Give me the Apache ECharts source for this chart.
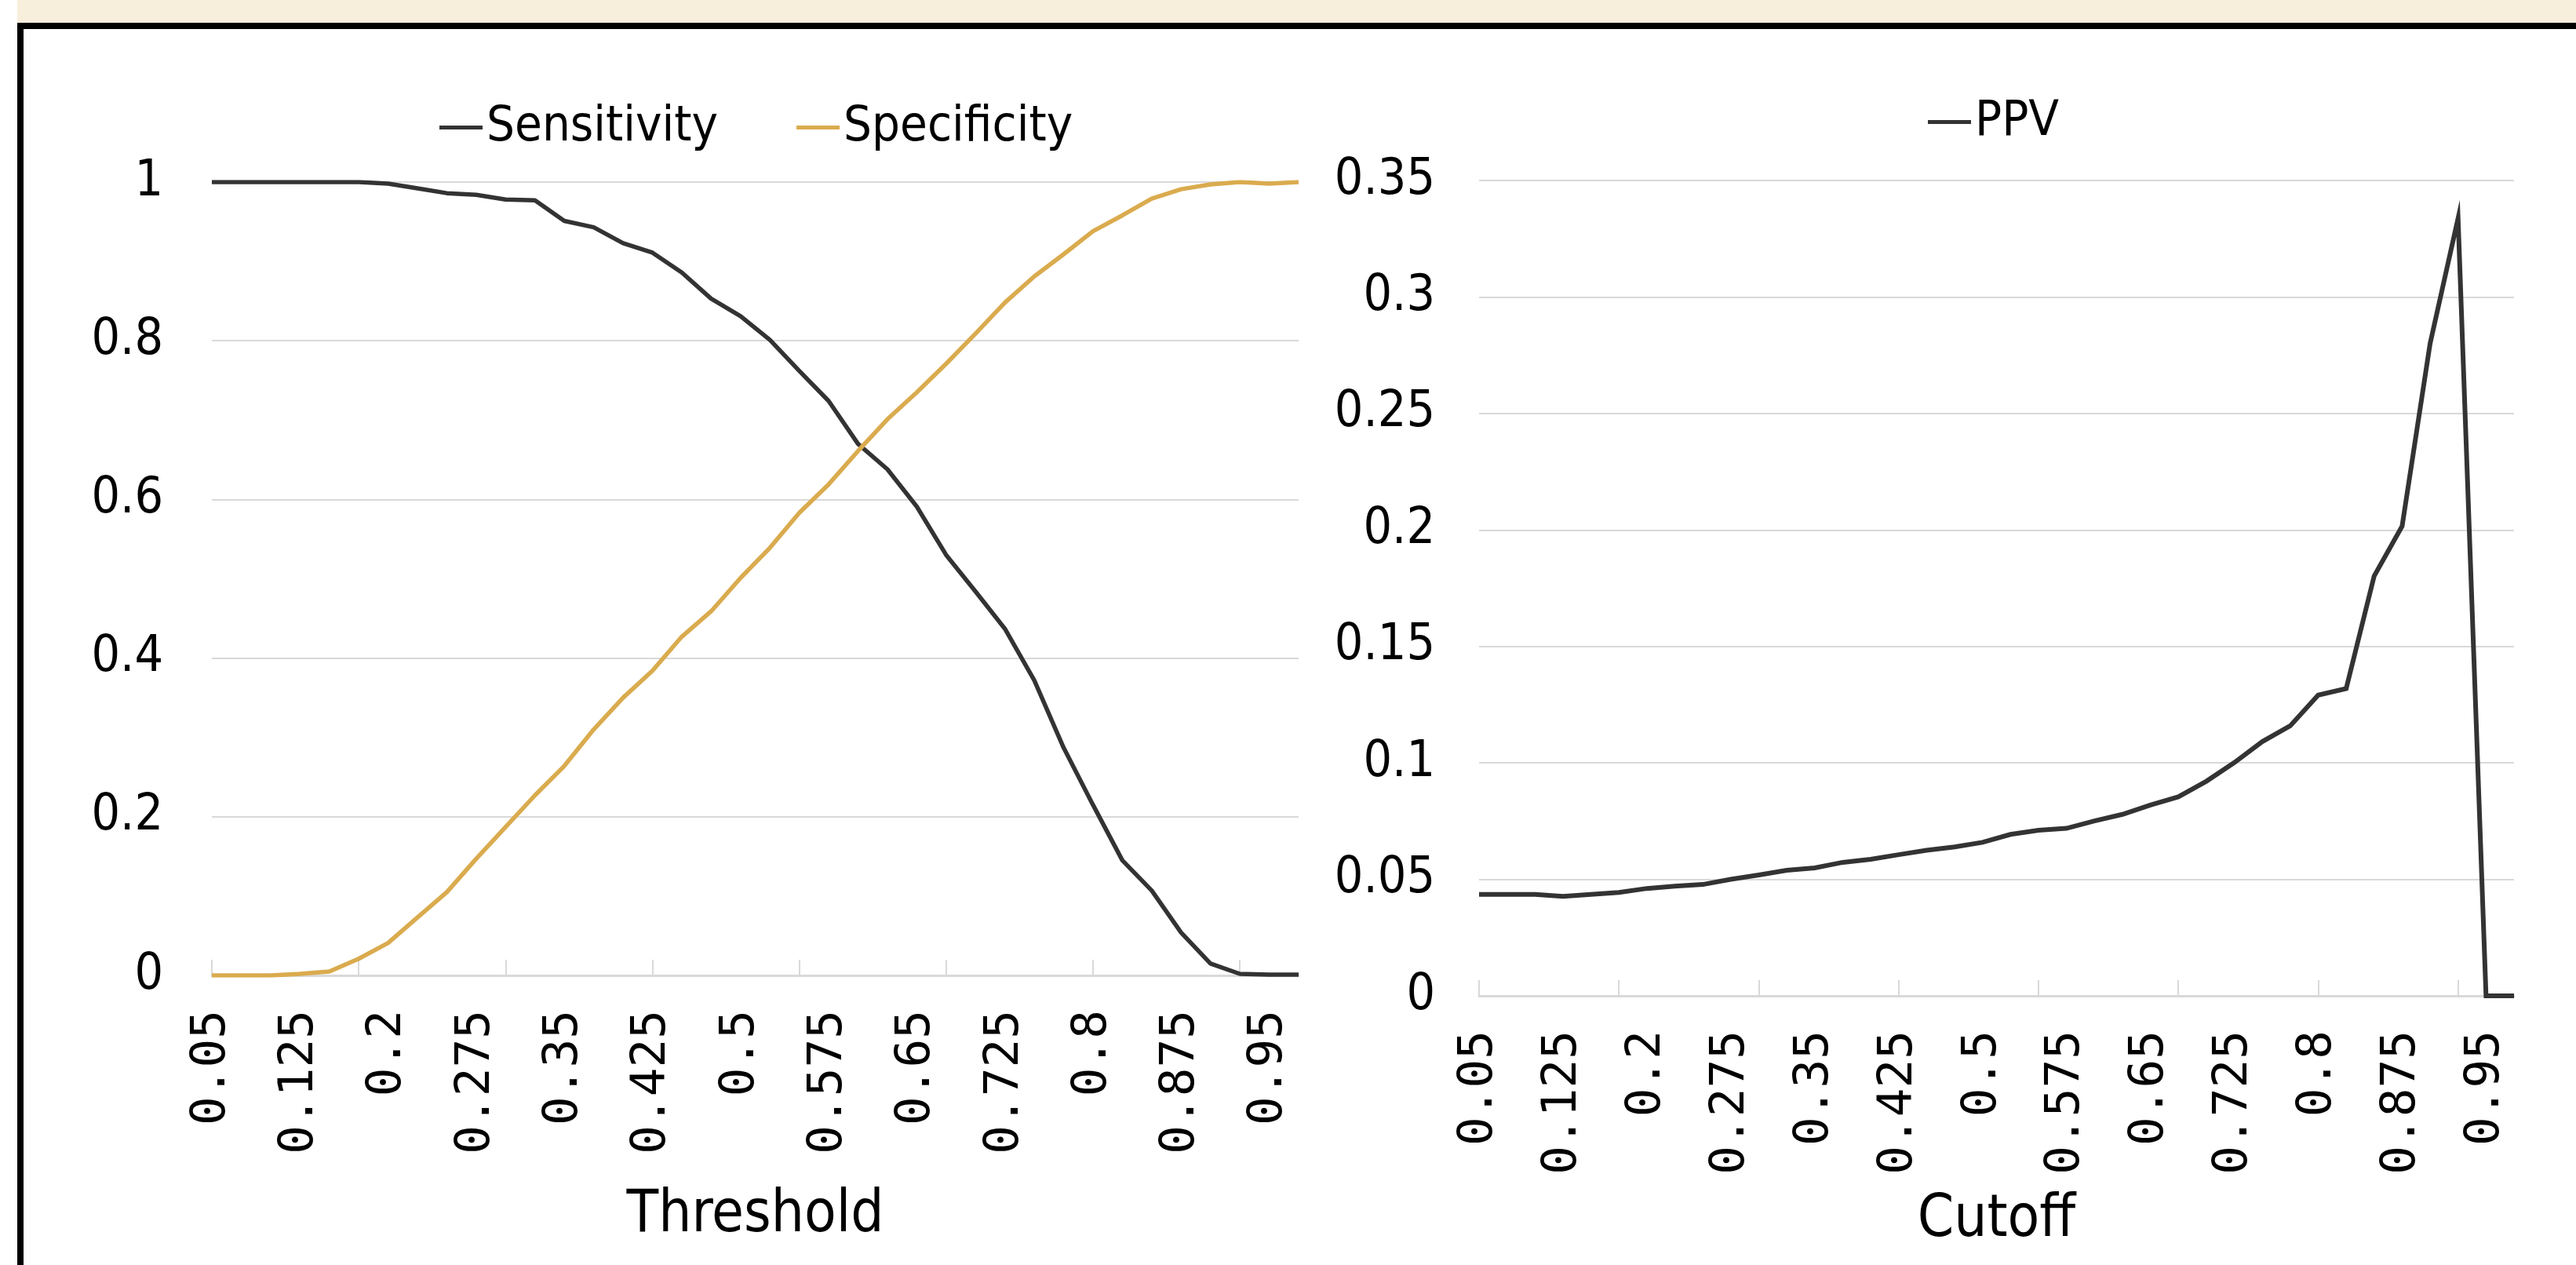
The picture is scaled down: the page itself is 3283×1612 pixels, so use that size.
<!DOCTYPE html>
<html>
<head>
<meta charset="utf-8">
<script src="https://cdn.jsdelivr.net/npm/echarts@6/dist/echarts.min.js"></script>
<style>
  html, body { margin: 0; padding: 0; background: #fff; }
  #main { width: 3283px; height: 1612px; }
</style>
</head>
<body>
<div id="main"></div>
<script>
  // thresholds / cutoffs (same for both panels)
  var cutoffs = ['0.05', '0.075', '0.1', '0.125', '0.15', '0.175', '0.2', '0.225', '0.25', '0.275',
    '0.3', '0.325', '0.35', '0.375', '0.4', '0.425', '0.45', '0.475', '0.5', '0.525',
    '0.55', '0.575', '0.6', '0.625', '0.65', '0.675', '0.7', '0.725', '0.75', '0.775',
    '0.8', '0.825', '0.85', '0.875', '0.9', '0.925', '0.95', '0.975']

  var sensitivity = [1, 1, 1, 1, 1, 1, 0.998, 0.992, 0.986, 0.984,
    0.978, 0.977, 0.951, 0.943, 0.923, 0.911, 0.886, 0.853, 0.831, 0.801,
    0.762, 0.724, 0.670, 0.638, 0.591, 0.530, 0.484, 0.437, 0.372, 0.287,
    0.215, 0.145, 0.107, 0.054, 0.015, 0.002, 0.001, 0.001]

  var specificity = [0, 0, 0, 0.002, 0.005, 0.021, 0.041, 0.073, 0.105, 0.147,
    0.187, 0.227, 0.264, 0.31, 0.35, 0.384, 0.427, 0.459, 0.501, 0.539,
    0.583, 0.619, 0.661, 0.701, 0.735, 0.771, 0.809, 0.848, 0.881, 0.909,
    0.938, 0.958, 0.979, 0.991, 0.997, 1.0, 0.998, 1.0]

  var ppv = [0.0435, 0.0435, 0.0435, 0.0427, 0.0435, 0.0444, 0.0461, 0.0471, 0.0478, 0.0500,
    0.0519, 0.0539, 0.0549, 0.0573, 0.0586, 0.0606, 0.0625, 0.0639, 0.0659, 0.0693,
    0.0711, 0.0719, 0.0751, 0.0779, 0.0819, 0.0854, 0.0921, 0.1001, 0.1091, 0.1159,
    0.1291, 0.1319, 0.1802, 0.2016, 0.2800, 0.3338, 0, 0]

  // y axis tick labels
  var leftTicks = [0, 0.2, 0.4, 0.6, 0.8, 1]
  var rightTicks = [0, 0.05, 0.1, 0.15, 0.2, 0.25, 0.3, 0.35]

  var dark = '#333333'
  var gold = '#DAAB4E'
  var gridGray = '#D9D9D9'
  var font = "'DejaVu Sans Condensed', 'Liberation Sans', sans-serif"
  var monoFont = "'DejaVu Sans Mono', monospace"

  function xAxisFor(idx, title, gap) {
    return {
      type: 'category',
      gridIndex: idx,
      data: cutoffs,
      boundaryGap: false,
      name: title,
      nameLocation: 'middle',
      nameGap: gap,
      nameTextStyle: { fontSize: 74, fontFamily: font, color: '#000' },
      axisLine: { lineStyle: { color: gridGray, width: 3 } },
      axisTick: { show: true, inside: true, length: 20, interval: 4, lineStyle: { color: gridGray, width: 2 } },
      axisLabel: { interval: 2, rotate: 90, margin: 44, fontSize: 61, fontFamily: monoFont, color: '#000' },
      splitLine: { show: false }
    }
  }

  function yAxisFor(idx, ticks, margin) {
    return {
      type: 'value',
      gridIndex: idx,
      min: ticks[0],
      max: ticks[ticks.length - 1],
      interval: ticks[1] - ticks[0],
      axisLine: { show: false },
      axisTick: { show: false },
      axisLabel: { margin: margin, fontSize: 64, fontFamily: font, color: '#000' },
      splitLine: { lineStyle: { color: gridGray, width: 2 } }
    }
  }

  var option = {
    animation: false,
    backgroundColor: '#fff',
    graphic: [
      { type: 'rect', shape: { x: 22, y: 0, width: 3261, height: 29 }, style: { fill: '#F7EEDC' } },
      { type: 'rect', shape: { x: 22, y: 29, width: 3261, height: 8 }, style: { fill: '#000' } },
      { type: 'rect', shape: { x: 22, y: 29, width: 8, height: 1583 }, style: { fill: '#000' } }
    ],
    legend: [{
      left: 555,
      top: 126,
      itemWidth: 55,
      itemHeight: 5,
      itemGap: 100,
      icon: 'rect',
      textStyle: { fontSize: 63, fontFamily: font, color: '#000' },
      data: ['Sensitivity', 'Specificity']
    }, {
      left: 2452,
      top: 119,
      itemWidth: 55,
      itemHeight: 5,
      icon: 'rect',
      textStyle: { fontSize: 63, fontFamily: font, color: '#000' },
      data: ['PPV']
    }],
    grid: [
      { left: 270, top: 232, width: 1385, height: 1011, outerBoundsMode: 'none' },
      { left: 1885, top: 230, width: 1319, height: 1039, outerBoundsMode: 'none' }
    ],
    xAxis: [xAxisFor(0, 'Threshold', 270), xAxisFor(1, 'Cutoff', 250)],
    yAxis: [yAxisFor(0, leftTicks, 62), yAxisFor(1, rightTicks, 56)],
    series: [{
      name: 'Sensitivity',
      type: 'line',
      xAxisIndex: 0,
      yAxisIndex: 0,
      data: sensitivity,
      showSymbol: false,
      color: dark,
      lineStyle: { color: dark, width: 5.5 }
    }, {
      name: 'Specificity',
      type: 'line',
      xAxisIndex: 0,
      yAxisIndex: 0,
      data: specificity,
      showSymbol: false,
      color: gold,
      lineStyle: { color: gold, width: 5.5 }
    }, {
      name: 'PPV',
      type: 'line',
      xAxisIndex: 1,
      yAxisIndex: 1,
      data: ppv,
      showSymbol: false,
      color: dark,
      lineStyle: { color: dark, width: 6, join: 'miter' }
    }]
  }

  var chart = echarts.init(document.getElementById('main'))
  chart.setOption(option)
</script>
</body>
</html>
